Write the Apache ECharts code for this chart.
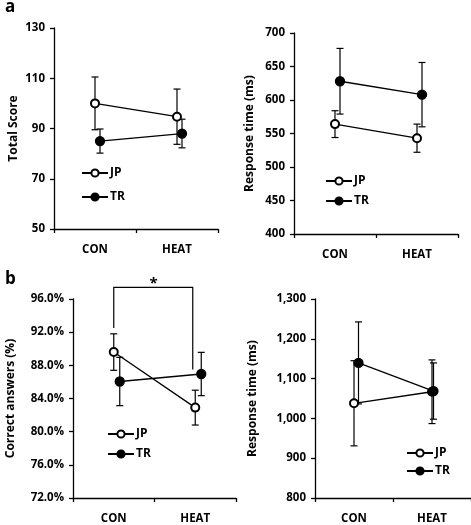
<!DOCTYPE html>
<html>
<head>
<meta charset="utf-8">
<script src="https://cdn.jsdelivr.net/npm/echarts@6/dist/echarts.min.js"></script>
<style>
html,body{margin:0;padding:0;background:#fff;}
#chart{width:471px;height:525px;}
</style>
</head>
<body>
<div id="chart"></div>
<script>
// ---- data ----
const categories = ['CON', 'HEAT'];
const groups = ['JP', 'TR'];

// panel a (left): Total Score
const scoreJP = [100, 94.7];
const scoreJPErr = [10.5, 11];
const scoreTR = [85, 88];
const scoreTRErr = [4.8, 5.7];

// panel a (right): Response time (ms)
const rtA_JP = [564, 543];
const rtA_JPErr = [20, 21];
const rtA_TR = [628, 608];
const rtA_TRErr = [49, 48];

// panel b (left): Correct answers (%)
const correctJP = [89.6, 82.9];
const correctJPErr = [2.2, 2.1];
const correctTR = [86.1, 87.0];
const correctTRErr = [2.9, 2.6];

// panel b (right): Response time (ms)
const rtB_JP = [1038, 1067];
const rtB_JPErr = [107, 80];
const rtB_TR = [1141, 1071];
const rtB_TRErr = [102, 70];

// significance bracket in panel b (left): [left end, top, right end] values
const bracketLevels = [92.5, 97.4, 87.5];
const bracketMark = '*';

// tick labels / axis ranges
const yTicksA1 = [50, 70, 90, 110, 130];
const yTicksA2 = [400, 450, 500, 550, 600, 650, 700];
const yTicksB1 = [72, 76, 80, 84, 88, 92, 96];
const yTicksB2 = [800, 900, 1000, 1100, 1200, 1300];

// ---- layout / styling ----
const FONT = '"Open Sans", "Liberation Sans", sans-serif';
const panels = [
  {name: 'Total Score', jp: scoreJP, jpErr: scoreJPErr, tr: scoreTR, trErr: scoreTRErr,
   ticks: yTicksA1, fmt: v => String(v),
   grid: {left: 54, width: 164, top: 28, height: 201}, shift: 5, nameGap: 34,
   legend: {left: 76, top: 162, itemGap: 12}},
  {name: 'Response time (ms)', jp: rtA_JP, jpErr: rtA_JPErr, tr: rtA_TR, trErr: rtA_TRErr,
   ticks: yTicksA2, fmt: v => String(v),
   grid: {left: 294, width: 164, top: 33, height: 201}, shift: 5, nameGap: 38,
   legend: {left: 320, top: 170, itemGap: 8}},
  {name: 'Correct answers (%)', jp: correctJP, jpErr: correctJPErr, tr: correctTR, trErr: correctTRErr,
   ticks: yTicksB1, fmt: v => v.toFixed(1) + '%',
   grid: {left: 73, width: 163, top: 299, height: 200}, shift: 6, nameGap: 56,
   legend: {left: 102, top: 423, itemGap: 8}},
  {name: 'Response time (ms)', jp: rtB_JP, jpErr: rtB_JPErr, tr: rtB_TR, trErr: rtB_TRErr,
   ticks: yTicksB2, fmt: v => v.toLocaleString('en-US'),
   grid: {left: 315, width: 157, top: 299, height: 201}, shift: 6, nameGap: 56,
   legend: {left: 401, top: 442, itemGap: 6}}
];

const axisLineStyle = {color: '#000', width: 1.3};
const labelStyle = {color: '#000', fontFamily: FONT, fontWeight: 'bold', fontSize: 11.5};

function errRender(params, api) {
  const x = api.value(0);
  const lo = api.coord([x, api.value(1)]);
  const hi = api.coord([x, api.value(2)]);
  const c = 3.5;
  const st = {stroke: '#000', lineWidth: 1.2};
  return {type: 'group', children: [
    {type: 'line', shape: {x1: lo[0], y1: lo[1], x2: hi[0], y2: hi[1]}, style: st},
    {type: 'line', shape: {x1: lo[0] - c, y1: lo[1], x2: lo[0] + c, y2: lo[1]}, style: st},
    {type: 'line', shape: {x1: hi[0] - c, y1: hi[1], x2: hi[0] + c, y2: hi[1]}, style: st}
  ]};
}

function bracketRender(params, api) {
  const a = api.coord([api.value(0), api.value(2)]);
  const b = api.coord([api.value(0), api.value(3)]);
  const c = api.coord([api.value(1), api.value(3)]);
  const d = api.coord([api.value(1), api.value(4)]);
  return {type: 'group', children: [
    {type: 'polyline', shape: {points: [[a[0], a[1]], [b[0], b[1]], [c[0] - 2.5, c[1]], [d[0] - 2.5, d[1]]]},
     style: {stroke: '#000', lineWidth: 1.2, fill: null}},
    {type: 'text', style: {text: bracketMark, x: (b[0] + c[0]) / 2 - 1, y: b[1] + 4,
      textAlign: 'center', textVerticalAlign: 'bottom', fontSize: 15, fontWeight: 'bold',
      fontFamily: FONT, fill: '#000'}}
  ]};
}

const option = {
  animation: false,
  backgroundColor: '#fff',
  title: [
    {text: 'a', left: 0, top: -6, textStyle: {fontFamily: FONT, fontWeight: 'bold', fontSize: 17, color: '#000'}},
    {text: 'b', left: 0, top: 266, textStyle: {fontFamily: FONT, fontWeight: 'bold', fontSize: 17, color: '#000'}}
  ],
  grid: [], xAxis: [], yAxis: [], series: [], legend: []
};

panels.forEach((p, i) => {
  const min = p.ticks[0], max = p.ticks[p.ticks.length - 1];
  const interval = p.ticks[1] - p.ticks[0];
  const gJP = 2 * i, gTR = 2 * i + 1;
  option.grid.push(Object.assign({containLabel: false}, p.grid));
  option.grid.push({left: p.grid.left + p.shift, width: p.grid.width, top: p.grid.top, height: p.grid.height});
  option.xAxis.push({type: 'category', gridIndex: gJP, data: categories, boundaryGap: true,
    axisLine: {lineStyle: axisLineStyle}, axisTick: {show: true, length: 4, lineStyle: axisLineStyle},
    axisLabel: Object.assign({margin: 15}, labelStyle)});
  option.xAxis.push({type: 'category', gridIndex: gTR, data: categories, boundaryGap: true, show: false});
  option.yAxis.push({type: 'value', gridIndex: gJP, min: min, max: max, interval: interval,
    name: p.name, nameLocation: 'middle', nameGap: p.nameGap,
    nameTextStyle: {color: '#000', fontFamily: FONT, fontWeight: 'bold', fontSize: 12},
    axisLine: {show: true, lineStyle: axisLineStyle}, axisTick: {show: true, length: 4, lineStyle: axisLineStyle},
    splitLine: {show: false},
    axisLabel: Object.assign({margin: 9, formatter: p.fmt}, labelStyle)});
  option.yAxis.push({type: 'value', gridIndex: gTR, min: min, max: max, interval: interval, show: false, splitLine: {show: false}});

  const sets = [
    {name: 'JP', vals: p.jp, err: p.jpErr, ax: gJP, symbol: 'emptyCircle', size: 8},
    {name: 'TR', vals: p.tr, err: p.trErr, ax: gTR, symbol: 'circle', size: 9}
  ];
  sets.forEach(s => {
    option.series.push({type: 'custom', xAxisIndex: s.ax, yAxisIndex: s.ax, z: 1, silent: true,
      renderItem: errRender, data: s.vals.map((v, k) => [k, v - s.err[k], v + s.err[k]])});
  });
  sets.forEach(s => {
    option.series.push({type: 'line', name: s.name, xAxisIndex: s.ax, yAxisIndex: s.ax, z: 3,
      data: s.vals, symbol: s.symbol, symbolSize: s.size, showSymbol: true,
      lineStyle: {color: '#000', width: 1.3}, itemStyle: {color: '#000', borderColor: '#000', borderWidth: 1.3},
      emphasis: {disabled: true}});
  });
  option.legend.push({orient: 'vertical', left: p.legend.left, top: p.legend.top, itemGap: p.legend.itemGap,
    itemWidth: 26, itemHeight: 9, data: groups, selectedMode: false,
    textStyle: {color: '#000', fontFamily: FONT, fontWeight: 'bold', fontSize: 12, padding: [0, 0, 0, -3]}});
});

// significance bracket in panel b-left (JP grid)
option.series.push({type: 'custom', xAxisIndex: 4, yAxisIndex: 4, z: 4, silent: true, clip: false,
  renderItem: bracketRender,
  data: [[0, 1, bracketLevels[0], bracketLevels[1], bracketLevels[2]]]});

const chart = echarts.init(document.getElementById('chart'), null, {renderer: 'canvas'});
chart.setOption(option);
</script>
</body>
</html>
